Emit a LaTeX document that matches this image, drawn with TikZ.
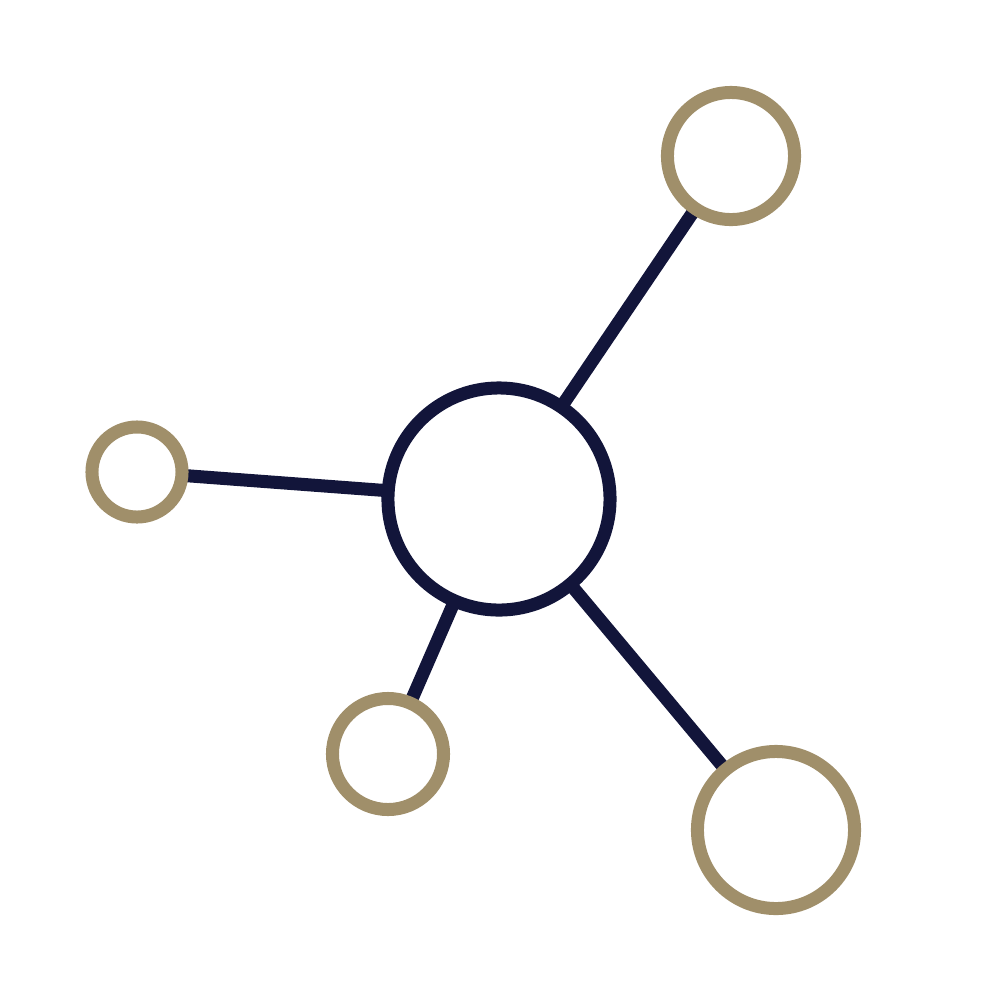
\documentclass[tikz,border=0pt]{standalone}
\usetikzlibrary{backgrounds}
\definecolor{navy}{HTML}{12153A}
\definecolor{tan}{HTML}{A08F6A}
\begin{document}
\begin{tikzpicture}[x=0.01cm,y=-0.01cm,
  hub/.style={circle,draw=navy,line width=0.13cm,fill=white,inner sep=0pt},
  leaf/.style={circle,draw=tan,line width=0.13cm,fill=white,inner sep=0pt},
  link/.style={draw=navy,line width=0.13cm}]
\useasboundingbox (0,0) rectangle (999,999);
\node[hub,minimum size=2.22cm] (c) at (499,499) {};
\node[leaf,minimum size=1.27cm] (tr) at (731,156) {};
\node[leaf,minimum size=0.90cm] (l) at (137,472) {};
\node[leaf,minimum size=1.11cm] (b) at (388,754) {};
\node[leaf,minimum size=1.57cm] (br) at (776,830) {};
\begin{scope}[on background layer]
\draw[link] (c.center) -- (tr.center);
\draw[link] (c.center) -- (l.center);
\draw[link] (c.center) -- (b.center);
\draw[link] (c.center) -- (br.center);
\end{scope}
\end{tikzpicture}
\end{document}
